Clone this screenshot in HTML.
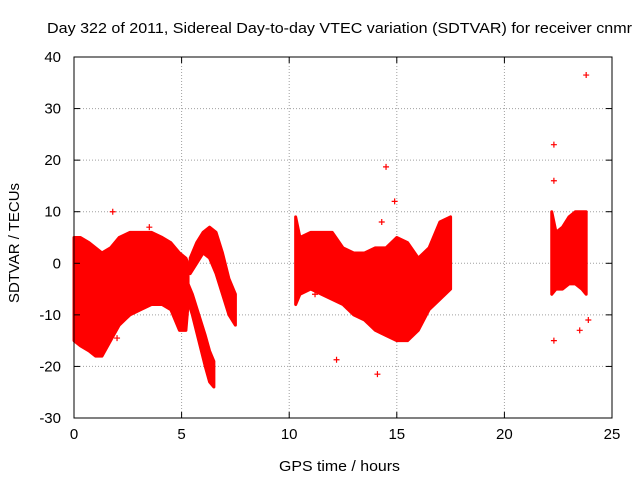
<!DOCTYPE html>
<html><head><meta charset="utf-8"><style>
body{margin:0;background:#fff;}
svg{display:block;font-family:"Liberation Sans",sans-serif;}
</style></head><body>
<svg id="chart" width="640" height="480" viewBox="0 0 640 480" xmlns="http://www.w3.org/2000/svg">
<rect width="640" height="480" fill="#fff"/>
<text x="47" y="33" font-size="15" textLength="585" lengthAdjust="spacingAndGlyphs">Day 322 of 2011, Sidereal Day-to-day VTEC variation (SDTVAR) for receiver cnmr</text>
<g id="grid"></g>
<g id="marks"></g>
<g id="axes"></g>
<text x="279" y="471" font-size="15" textLength="121" lengthAdjust="spacingAndGlyphs">GPS time / hours</text>
<text transform="translate(19,303) rotate(-90)" font-size="15" textLength="120" lengthAdjust="spacingAndGlyphs">SDTVAR / TECUs</text>
</svg>
<script>
const xTicks=[0,5,10,15,20,25];
const yTicks=[-30,-20,-10,0,10,20,30,40];
// envelope segments: times, upper, lower
const segAT=[0,0.3,0.7,1.0,1.3,1.7,2.1,2.6,3.1,3.6,4.1,4.5,4.9,5.2,5.3];
const segAU=[5,5,4,3,2,3,5,6,6,6,5,4,2,1,0];
const segAL=[-15,-16,-17,-18,-18,-15,-12,-10,-9,-8,-8,-9,-13,-13,-8];
const segBT=[5.2,5.5,5.8,6.1,6.3,6.5];
const segBU=[-3,-6,-10,-14,-17,-19];
const segBL=[-6,-10,-15,-20,-23,-24];
const segCT=[5.4,5.7,6.0,6.3,6.6,6.9,7.2,7.5];
const segCU=[1,4,6,7,6,2,-3,-6];
const segCL=[-2,0,2,1,-2,-6,-10,-12];
const segDT=[10.3,10.5,11,11.5,12,12.5,13,13.5,14,14.5,15,15.5,16,16.5,17,17.5];
const segDU=[9,5,6,6,6,3,2,2,3,3,5,4,1,3,8,9];
const segDL=[-8,-6,-5,-6,-7,-8,-10,-11,-13,-14,-15,-15,-13,-9,-7,-5];
const segET=[22.2,22.4,22.7,23.0,23.3,23.6,23.8];
const segEU=[10,6,7,9,10,10,10];
const segEL=[-6,-5,-5,-4,-4,-5,-6];
const outT=[1.8,2.0,14.1,14.5,22.3,22.3,23.8,12.2,23.5,14.9,14.3,22.3,23.9,3.5,11.2,13.5];
const outV=[10,-14.5,-21.5,18.7,23,-15,36.5,-18.7,-13,12,8,16,-11,7,-6,-8];

const X0=74,X1=612,Y0=418,Y1=57;
const xs=t=>X0+(t-0)/25*(X1-X0);
const ys=v=>Y0-(v+30)/70*(Y0-Y1);
const NS="http://www.w3.org/2000/svg";
function mk(tag,attrs,parent){const e=document.createElementNS(NS,tag);for(const k in attrs)e.setAttribute(k,attrs[k]);parent.appendChild(e);return e;}
const grid=document.getElementById('grid'),marks=document.getElementById('marks'),axes=document.getElementById('axes');
xTicks.forEach(t=>{
 if(t>0&&t<25){const l=mk('line',{x1:xs(t),x2:xs(t),y1:Y1,y2:Y0,stroke:'#a0a0a0','stroke-dasharray':'1,2'},grid);
 
 }
 mk('line',{x1:xs(t),x2:xs(t),y1:Y0,y2:Y0-6,stroke:'#000'},axes);
 mk('line',{x1:xs(t),x2:xs(t),y1:Y1,y2:Y1+6,stroke:'#000'},axes);
 const tx=mk('text',{x:xs(t),y:Y0+21,'font-size':15,'text-anchor':'middle'},axes);tx.textContent=t;
 
 
});
yTicks.forEach(v=>{
 if(v>-30&&v<40){const l=mk('line',{x1:X0,x2:X1,y1:ys(v),y2:ys(v),stroke:'#a0a0a0','stroke-dasharray':'1,2'},grid);
 
 }
 mk('line',{x1:X0,x2:X0+6,y1:ys(v),y2:ys(v),stroke:'#000'},axes);
 mk('line',{x1:X1,x2:X1-6,y1:ys(v),y2:ys(v),stroke:'#000'},axes);
 const tx=mk('text',{x:X0-13,y:ys(v)+5,'font-size':15,'text-anchor':'end'},axes);tx.textContent=v;
 
 
});
mk('rect',{x:X0,y:Y1,width:X1-X0,height:Y0-Y1,fill:'none',stroke:'#000'},axes);
function band(T,U,L,name){
 let pts=T.map((t,i)=>xs(t)+','+ys(U[i]));
 for(let i=T.length-1;i>=0;i--)pts.push(xs(T[i])+','+ys(L[i]));
 const p=mk('polygon',{points:pts.join(' '),fill:'#ff0000',stroke:'#ff0000','stroke-width':3,'stroke-linejoin':'round'},marks);
 
 
}
band(segAT,segAU,segAL,'series-segment-a');
band(segBT,segBU,segBL,'series-segment-b');
band(segCT,segCU,segCL,'series-segment-c');
band(segDT,segDU,segDL,'series-segment-d');
band(segET,segEU,segEL,'series-segment-e');
outT.forEach((t,i)=>{
 const x=xs(t),y=ys(outV[i]);
 const p=mk('path',{d:`M${x-3},${y}H${x+3}M${x},${y-3}V${y+3}`,stroke:'#ff0000','stroke-width':1.2},marks);
 
 
});
</script>
</body></html>
